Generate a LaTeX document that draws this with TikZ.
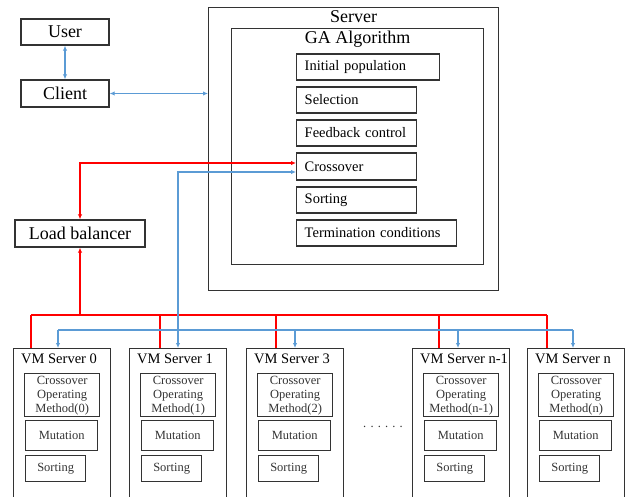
\documentclass[tikz,border=0pt]{standalone}
\usepackage{fontspec}
\setmainfont{Liberation Serif}
\usetikzlibrary{arrows.meta}
\definecolor{linkblue}{HTML}{5B9BD5}
\definecolor{boxgray}{HTML}{333333}
\tikzset{
	box/.style={draw=boxgray, line width=1.4pt, inner sep=0pt},
	bigtext/.style={font=\fontsize{18}{20}\selectfont},
	gastep/.style={box, anchor=west, minimum height=26pt, inner xsep=8pt,
		text width=#1, align=left, font=\fontsize{14.5}{16}\selectfont},
	vmpart/.style={box, anchor=north west, align=center, text=black!80,
		font=\fontsize{12.5}{14}\selectfont},
	redline/.style={draw=red, line width=1.6pt},
	blueline/.style={draw=linkblue, line width=1.5pt},
}

\begin{document}
\begin{tikzpicture}[x=1pt, y=-1pt, >={Latex[length=5pt,width=4.5pt]}]
	\useasboundingbox (0,0) rectangle (626,497);
	\node[box, bigtext, minimum width=88pt, minimum height=26pt] (user) at (65,32) {User};
	\node[box, bigtext, minimum width=88pt, minimum height=27pt] (client) at (65,93.5) {Client};
	\node[box, bigtext, minimum width=130pt, minimum height=27pt] (lb) at (80,233.5) {Load balancer};
	% server and GA box
	\node[box, anchor=north west, minimum width=290pt, minimum height=283pt] (server) at (208,7) {};
	\node[bigtext, anchor=north, inner sep=3pt] (servert) at (server.north) {Server};
	\node[box, anchor=north west, minimum width=252pt, minimum height=236pt] (ga) at (231,28) {};
	\node[bigtext, anchor=north, inner sep=3pt] (gat) at (ga.north) {GA Algorithm};
	\node[gastep=127pt] (init) at (296,67) {Initial population};
	\node[gastep=104pt] (sel) at (296,100) {Selection};
	\node[gastep=104pt] (feed) at (296,133) {Feedback control};
	\node[gastep=104pt, minimum height=27pt] (crossover) at (296,166.5) {Crossover};
	\node[gastep=104pt] (sort) at (296,200) {Sorting};
	\node[gastep=144pt] (term) at (296,233) {Termination conditions};
	\draw[blueline, <->] (user.south) -- (client.north);
	\draw[blueline, <->] (client.east) -- (client.east -| server.west);
	\draw[redline, <->] (lb.north) |- ([yshift=3.5pt]crossover.west);
	% VM servers
	\coordinate (rbus) at (0,315);
	\coordinate (bbus) at (0,330);
	\foreach \i/\x/\name/\m/\ro/\bo in {0/13/0/0/18/45, 1/129/1/1/31/49, 2/246/3/2/30/49, 3/412/n-1/n-1/27/46, 4/527/n/n/20/46}{
		\node[box, anchor=north west, minimum width=97pt, minimum height=155pt] (vm\i) at (\x,348) {};
		\node[anchor=north west, inner sep=0pt, font=\fontsize{14.5}{16}\selectfont] (vmt\i) at ([shift={(8pt,-6pt)}]vm\i.north west) {VM Server \name};
		\node[vmpart, minimum width=75pt, minimum height=43pt] (cop\i) at ([shift={(11pt,-25pt)}]vm\i.north west) {Crossover\\Operating\\Method(\m)};
		\node[vmpart, minimum width=72pt, minimum height=30pt] (mut\i) at ([shift={(12pt,-72pt)}]vm\i.north west) {Mutation};
		\node[vmpart, minimum width=60pt, minimum height=26pt] (srt\i) at ([shift={(12pt,-107pt)}]vm\i.north west) {Sorting};
		\coordinate (r\i) at ([xshift=\ro pt]vm\i.north west);
		\coordinate (b\i) at ([xshift=\bo pt]vm\i.north west);
		\draw[redline] (r\i) -- (r\i |- rbus);
		\draw[blueline, ->] (b\i |- bbus) -- (b\i);
	}
	\draw[redline] (r0 |- rbus) -- (r4 |- rbus);
	\draw[blueline] (b0 |- bbus) -- (b4 |- bbus);
	\draw[redline, ->] (lb.south |- rbus) -- (lb.south);
	\draw[blueline, ->] (b1 |- bbus) |- ([yshift=-5.5pt]crossover.west);
	\node[font=\fontsize{12.5}{14}\selectfont, text=black!80] (dots) at (383,427) {. . . . . .};
\end{tikzpicture}
\end{document}
